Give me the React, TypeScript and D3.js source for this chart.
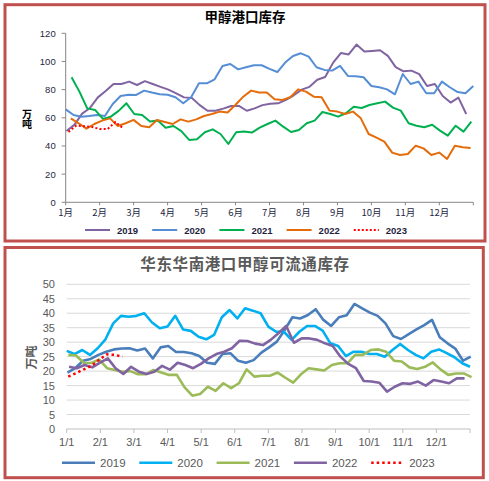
import React from 'react';
import * as d3 from 'd3';

// ---------- Chart 1: 甲醇港口库存 (万吨) ----------
const portTitle = '甲醇港口库存';
const portYears = ['2019', '2020', '2021', '2022', '2023'];
const portMonthLabels = ['1月', '2月', '3月', '4月', '5月', '6月', '7月', '8月', '9月', '10月', '11月', '12月'];
const portYTicks = [0, 20, 40, 60, 80, 100, 120];
const port2019 = [50.6, 55, 63, 67, 74.5, 79, 84, 84, 85.7, 83.3, 86, 84, 82, 80, 77.4, 74.5, 74, 69, 65, 65, 66.5, 68.4, 68.4, 65, 66.7, 69, 70, 70.3, 72.7, 76, 80, 82, 87, 89, 99, 106, 105, 112, 107, 107.5, 108, 104, 96, 93, 93.5, 91, 82.6, 84, 75.5, 70.8, 74.3, 62.7];
const port2020 = [66, 62, 60.8, 61.3, 62, 61.3, 69.8, 75.5, 76.4, 76.2, 79.3, 77.9, 76.7, 76.4, 74.6, 70.3, 74.6, 84.5, 84.5, 87.3, 96.8, 98.2, 94.4, 95.9, 97.3, 97.3, 94.7, 92.5, 99.2, 103.9, 105.8, 103.4, 95.9, 94, 93.5, 96.8, 89.7, 89.5, 88.8, 82.6, 81.7, 80.2, 76.7, 91.1, 84, 85.7, 77.4, 77.4, 85.7, 81.7, 78.3, 77.4, 82.6];
const port2021 = [88.8, 78.6, 66.7, 65.6, 59.2, 60.8, 64.9, 70.3, 62.7, 62, 57.3, 58, 53, 54.2, 50.6, 44.3, 44.7, 49.7, 51.8, 48.5, 41.4, 49.7, 50.2, 49.5, 53, 55.6, 58, 53.7, 49.9, 51.4, 56.1, 58, 64.1, 62.7, 60.8, 63.2, 67.9, 67, 69.1, 70.3, 71.5, 67.2, 65.1, 56.1, 54.4, 53.3, 55.1, 50.9, 47.3, 54.4, 50.2, 57.3];
const port2022 = [59.6, 56.1, 52.3, 55.6, 58, 59.6, 54.2, 56.1, 58.5, 54.2, 53.3, 58.5, 57, 55.6, 58.9, 57.3, 58.9, 61.3, 62.7, 64.4, 63.7, 69.1, 75, 79.3, 77.9, 77.9, 73.1, 72.7, 74.6, 80.2, 78.6, 75, 74.6, 65.1, 64.4, 62.7, 64.4, 59.6, 48.5, 45.9, 43.1, 35.3, 33.6, 34.3, 40.2, 38.3, 33.6, 35.3, 30.8, 40.2, 39.1, 38.6];
const port2023 = [50, 54.5, 54, 53.5, 52, 52, 57, 52.5];
const portStartWeek = [0.1, 0, 0.75, 0.65, 0.35];

// ---------- Chart 2: 华东华南港口甲醇可流通库存 (万吨) ----------
const stockTitle = '华东华南港口甲醇可流通库存';
const stockYears = ['2019', '2020', '2021', '2022', '2023'];
const stockMonthLabels = ['1/1', '2/1', '3/1', '4/1', '5/1', '6/1', '7/1', '8/1', '9/1', '10/1', '11/1', '12/1'];
const stockYTicks = [0, 5, 10, 15, 20, 25, 30, 35, 40, 45, 50];
const stock2019 = [19.5, 21, 23.6, 24.2, 25.6, 26.7, 27.5, 27.8, 27.9, 27.1, 27.8, 24.4, 28.2, 28.7, 26.6, 26.6, 26.2, 25.2, 22.9, 22.5, 25.9, 26.2, 23.6, 22.9, 23.8, 26.4, 28.2, 30.2, 34.2, 38.6, 38.2, 39.4, 41.4, 37.7, 35.6, 38.6, 39.3, 43.2, 41.7, 40.2, 39.1, 36.5, 32.1, 31.1, 32.8, 34.4, 35.9, 37.7, 31.7, 29.6, 27.8, 23.6, 25];
const stock2020 = [27, 25.9, 27.3, 25.6, 27.9, 31, 36.5, 39.1, 38.8, 39.1, 40, 36.8, 34.8, 35.4, 39.1, 34.4, 33.9, 31.9, 31, 32.5, 38.6, 41.1, 38.2, 41.7, 40.9, 40, 35.4, 33.6, 33.6, 30.8, 33.6, 35.6, 35.6, 34, 29.6, 28.7, 25.2, 26.7, 26.7, 25.9, 25.9, 25, 27.3, 29.4, 27.3, 25.6, 24.4, 26.7, 27.5, 26.2, 24.8, 22.7, 21.5];
const stock2021 = [25.6, 25.4, 22.9, 22.8, 24, 21, 20.4, 19.8, 20, 18.9, 18.9, 20.4, 19.5, 18.7, 18.7, 14.4, 11.5, 12.1, 14.6, 13.2, 15.8, 14.1, 15.8, 20.6, 18.1, 18.4, 18.4, 19.5, 17.7, 16, 18.9, 21, 20.6, 20.2, 22.1, 22.7, 22.7, 25.6, 25.6, 27.3, 27.5, 26.7, 23.6, 23.3, 21.3, 20.7, 21.5, 23, 20.6, 18.7, 19.2, 19.2, 17.9];
const stock2022 = [21.5, 21, 22.1, 21.3, 22.9, 24.4, 21, 19, 21.5, 19.8, 19, 19.8, 21.8, 20.5, 22.9, 22.1, 21, 22.5, 24.4, 25.9, 26.7, 27.9, 30.5, 30.4, 29.5, 29, 30.8, 33.1, 35.6, 29.8, 31.3, 31.3, 30.8, 29.6, 28.7, 25, 22.5, 21, 16.6, 16.4, 16, 12.9, 14.6, 15.8, 15.6, 16.4, 15, 16.9, 16.4, 15.8, 17.5, 17.5];
const stock2023 = [18.1, 19.3, 20.6, 21.8, 24, 25.8, 25.6, 25];
const stockStartWeek = [0.1, 0, 0.2, 0.3, 0.2];

const portSeries = [port2019, port2020, port2021, port2022, port2023];
const stockSeries = [stock2019, stock2020, stock2021, stock2022, stock2023];

const portColors = ['#8064A2', '#558ED5', '#00B050', '#E46C0A', '#FF0000'];
const stockColors = ['#4A7EBB', '#00B0F0', '#9BBB59', '#8064A2', '#FF0000'];

const NUM_FONT = '"Liberation Sans", Arial, sans-serif';
const CJK_FONT = '"Noto Sans CJK SC", "Noto Sans", sans-serif';

function PortChart() {
  const x = d3.scaleLinear().domain([0, 52]).range([65.7, 473.3]);
  const y = d3.scaleLinear().domain([0, 120]).range([202.3, 33.3]);
  const m = d3.scaleLinear().domain([0, 12]).range([65.7, 473.3]);
  const monthTicks = d3.range(0, 13);
  return (
    <g>
      <rect x={5} y={4.7} width={480} height={236.3} fill="#fff" stroke="#C0504D" strokeWidth={3} />
      <text x={245} y={22} textAnchor="middle" fontFamily={CJK_FONT} fontWeight="bold" fontSize={13.5} fill="#000">{portTitle}</text>
      <text x={27} y={119} textAnchor="middle" fontFamily={CJK_FONT} fontWeight="bold" fontSize={10}
        fill="#000" style={{ writingMode: 'vertical-rl' }}>万吨</text>
      {/* y axis */}
      <line x1={x(0)} x2={x(0)} y1={y(120)} y2={y(0)} stroke="#868686" strokeWidth={1} />
      {portYTicks.map((t) => (
        <g key={t}>
          <line x1={x(0) - 4} x2={x(0)} y1={y(t)} y2={y(t)} stroke="#868686" />
          <text x={x(0) - 10} y={y(t)} textAnchor="end" dominantBaseline="central" fontFamily={NUM_FONT} fontSize={9.5} fill="#1F1F3F">{t}</text>
        </g>
      ))}
      {/* x axis */}
      <line x1={m(0)} x2={m(12)} y1={y(0)} y2={y(0)} stroke="#868686" />
      {monthTicks.map((t) => (
        <line key={t} x1={m(t)} x2={m(t)} y1={y(0)} y2={y(0) + 3} stroke="#868686" />
      ))}
      {portMonthLabels.map((lab, i) => (
        <text key={lab} x={m(i)} y={216} textAnchor="middle" fontFamily={CJK_FONT} fontSize={9.5} fill="#1F1F3F">{lab}</text>
      ))}
      {portSeries.map((vals, si) => {
        const line = d3.line<number>().x((_, i) => x(portStartWeek[si] + i)).y((v) => y(v));
        const dotted = si === 4;
        return (
          <path key={si} d={line(vals) || ''} fill="none" stroke={portColors[si]} strokeWidth={2}
            strokeDasharray={dotted ? '2 2.2' : undefined} strokeLinejoin="round" />
        );
      })}
      {portYears.map((yr, i) => {
        const lx = 85 + i * 67.2;
        return (
          <g key={yr}>
            <line x1={lx} x2={lx + 25} y1={230} y2={230} stroke={portColors[i]} strokeWidth={2} strokeDasharray={i === 4 ? '2 2' : undefined} />
            <text x={lx + 32} y={230} dominantBaseline="central" fontFamily={NUM_FONT} fontWeight="bold" fontSize={9.5} fill="#1F1F3F">{yr}</text>
          </g>
        );
      })}
    </g>
  );
}

function StockChart() {
  const x = d3.scaleLinear().domain([0, 52]).range([66.7, 470]);
  const y = d3.scaleLinear().domain([0, 50]).range([429, 284.3]);
  const m = d3.scaleLinear().domain([0, 12]).range([66.7, 470]);
  const monthTicks = d3.range(0, 13);
  return (
    <g>
      <rect x={5} y={247.5} width={478.3} height={230.2} fill="#fff" stroke="#C0504D" strokeWidth={3} />
      <text x={245} y={270} textAnchor="middle" fontFamily={CJK_FONT} fontWeight="bold" fontSize={15.5} fill="#595959" letterSpacing={0.6}>{stockTitle}</text>
      <text transform={`translate(30,357.5) rotate(-90)`} textAnchor="middle" dominantBaseline="central" fontFamily={CJK_FONT} fontWeight="bold" fontSize={12} fill="#595959">万吨</text>
      {stockYTicks.map((t) => (
        <g key={t}>
          {t > 0 && <line x1={m(0)} x2={m(12)} y1={y(t)} y2={y(t)} stroke="#D9D9D9" strokeWidth={1} />}
          <text x={55} y={y(t)} textAnchor="end" dominantBaseline="central" fontFamily={NUM_FONT} fontSize={11} fill="#595959">{t}</text>
        </g>
      ))}
      <line x1={m(0)} x2={m(12)} y1={y(0)} y2={y(0)} stroke="#BFBFBF" />
      {monthTicks.map((t) => (
        <line key={t} x1={m(t)} x2={m(t)} y1={y(0)} y2={y(0) + 4} stroke="#BFBFBF" />
      ))}
      {stockMonthLabels.map((lab, i) => (
        <text key={lab} x={m(i)} y={442} textAnchor="middle" dominantBaseline="central" fontFamily={NUM_FONT} fontSize={11} fill="#595959">{lab}</text>
      ))}
      {stockSeries.map((vals, si) => {
        const line = d3.line<number>().x((_, i) => x(stockStartWeek[si] + i)).y((v) => y(v));
        const dotted = si === 4;
        return (
          <path key={si} d={line(vals) || ''} fill="none" stroke={stockColors[si]} strokeWidth={dotted ? 2.5 : 2.6}
            strokeDasharray={dotted ? '2.5 3' : undefined} strokeLinejoin="round" />
        );
      })}
      {stockYears.map((yr, i) => {
        const lx = 62 + i * 77.3;
        return (
          <g key={yr}>
            <line x1={lx} x2={lx + 33} y1={462.7} y2={462.7} stroke={stockColors[i]} strokeWidth={2.6} strokeDasharray={i === 4 ? '2.5 3' : undefined} />
            <text x={lx + 38} y={462.7} dominantBaseline="central" fontFamily={NUM_FONT} fontSize={11.5} fill="#595959">{yr}</text>
          </g>
        );
      })}
    </g>
  );
}

export default function App() {
  return (
    <svg width={489} height={481} viewBox="0 0 489 481" style={{ position: 'absolute', left: 0, top: 0, background: '#fff' }}>
      <rect x={0} y={0} width={489} height={481} fill="#fff" />
      <PortChart />
      <StockChart />
    </svg>
  );
}
